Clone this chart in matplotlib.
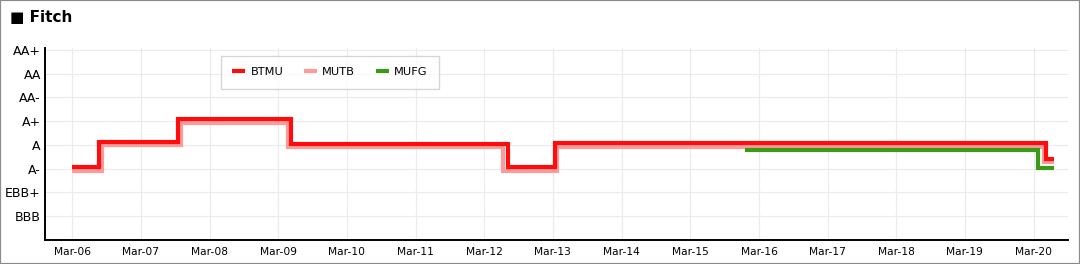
#!/usr/bin/env python3
"""
plot.py - Fitch rating history for BTMU, MUTB and MUFG as step lines.
"""

import pandas as pd  # For the dates.
import matplotlib
matplotlib.use("Agg")
import matplotlib.pyplot as plt
import matplotlib.dates as mdates
from matplotlib.patches import Rectangle

# --- Data ---
rating_labels = ['BBB', 'EBB+', 'A-', 'A', 'A+', 'AA-', 'AA', 'AA+']
rating_levels = [1, 2, 3, 4, 5, 6, 7, 8]

btmu_dates = ['2006-03-01', '2006-07-20', '2007-09-13', '2009-05-10',
              '2012-07-07', '2013-03-12', '2020-05-06', '2020-06-15']
btmu_values = [3.06, 4.12, 5.08, 4.05, 3.07, 4.08, 3.42, 3.42]

mutb_dates = ['2006-03-01', '2006-08-04', '2007-10-01', '2009-04-22',
              '2012-06-10', '2013-03-22', '2020-04-25', '2020-06-15']
mutb_values = [2.90, 3.98, 4.93, 3.90, 2.91, 3.92, 3.30, 3.30]

mufg_dates = ['2015-12-18', '2020-03-25', '2020-06-15']
mufg_values = [3.78, 3.04, 3.04]

series = [
    ('MUTB', mutb_dates, mutb_values, '#ff9a9a'),
    ('MUFG', mufg_dates, mufg_values, '#3c9b14'),
    ('BTMU', btmu_dates, btmu_values, '#ff0d0d'),
]
legend_order = ['BTMU', 'MUTB', 'MUFG']

# --- Figure ---
W, H = 1080, 264
fig = plt.figure(figsize=(W / 100, H / 100), dpi=100)
fig.patch.set_facecolor('white')

# Outer grey border.
fig.add_artist(Rectangle((0, 0), 1, 1, transform=fig.transFigure, fill=False,
                         edgecolor='#8c8c8c', linewidth=1.6))

# Title.
fig.text(10 / W, 1 - 18 / H, '\u25a0 Fitch', fontsize=11, fontweight='bold',
         va='center', ha='left', color='black')

# Plot area in pixel terms.
left, right, top, bottom = 45, 1068, 48, 240
ax = fig.add_axes([left / W, 1 - bottom / H, (right - left) / W, (bottom - top) / H])

handles = {}
for name, dates, values, color in series:
    line, = ax.plot(pd.to_datetime(dates), values, drawstyle='steps-post',
                    color=color, linewidth=3.0, solid_capstyle='butt',
                    solid_joinstyle='miter', label=name, zorder=3)
    handles[name] = line

# Axes limits and ticks.
ax.set_xlim(pd.Timestamp('2005-10-07'), pd.Timestamp('2020-08-31'))
ax.set_ylim(0, 8.08)
ax.set_yticks(rating_levels)
ax.set_yticklabels(rating_labels)
ax.xaxis.set_major_locator(mdates.YearLocator(base=1, month=3, day=1))
ax.xaxis.set_major_formatter(mdates.DateFormatter('%b-%y'))

ax.tick_params(axis='y', length=0, pad=3, labelsize=9)
ax.tick_params(axis='x', length=0, pad=5, labelsize=7.7)

ax.grid(True, color='#ebebeb', linewidth=0.8, zorder=0)
ax.set_axisbelow(True)

for s in ['top', 'right']:
    ax.spines[s].set_visible(False)
for s in ['left', 'bottom']:
    ax.spines[s].set_color('black')
    ax.spines[s].set_linewidth(1.4)

# Legend box.
leg = ax.legend([handles[n] for n in legend_order], legend_order, ncol=3,
                loc='upper left', bbox_to_anchor=((221 - left) / (right - left), (bottom - 56) / (bottom - top)),
                fontsize=8.2, frameon=True, fancybox=False, handlelength=1.15,
                handletextpad=0.45, columnspacing=1.8, borderpad=1.0,
                borderaxespad=0)
leg.get_frame().set_edgecolor('#cccccc')
leg.get_frame().set_linewidth(1.0)

plt.savefig('out.png', dpi=100)
plt.close()
